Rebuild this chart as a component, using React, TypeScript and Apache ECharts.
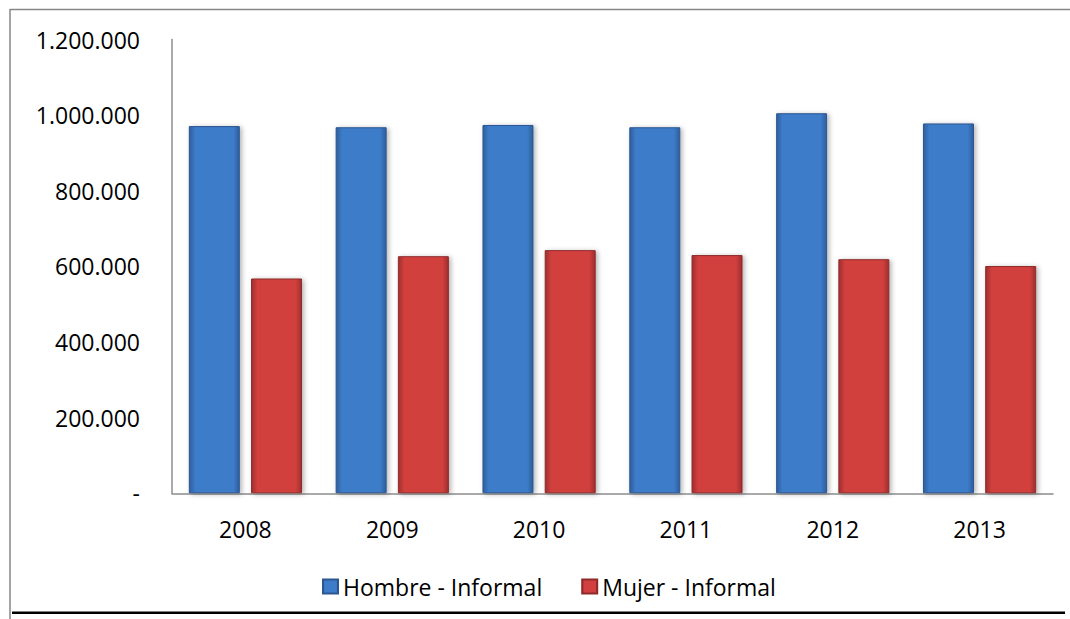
import React, { useEffect, useRef } from "react";
import * as echarts from "echarts";

const years = ["2008", "2009", "2010", "2011", "2012", "2013"];
const hombre = [971000, 968000, 974000, 968000, 1005000, 978000];
const mujer = [568000, 627000, 643000, 630000, 619000, 601000];
const seriesNames = ["Hombre - Informal", "Mujer - Informal"];

const fmt = (v: number) => {
  if (v === 0) return "-";
  return String(Math.round(v)).replace(/\B(?=(\d{3})+(?!\d))/g, ".");
};

const hGrad = (edge: string, mid: string) =>
  new echarts.graphic.LinearGradient(0, 0, 1, 0, [
    { offset: 0, color: edge },
    { offset: 0.12, color: mid },
    { offset: 0.88, color: mid },
    { offset: 1, color: edge },
  ]);

export default function App() {
  const ref = useRef<HTMLDivElement>(null);
  useEffect(() => {
    document.body.style.margin = "0";
    const chart = echarts.init(ref.current!, undefined, { renderer: "svg" });
    const font = "'Open Sans', sans-serif";
    chart.setOption({
      animation: false,
      backgroundColor: "#ffffff",
      textStyle: { fontFamily: font },
      grid: { left: 172, right: 17, top: 39.5, bottom: 125.7, containLabel: false },
      legend: {
        left: 322,
        top: 575,
        padding: 0,
        itemWidth: 15,
        itemHeight: 14,
        itemGap: 39,
        icon: "rect",
        textStyle: { fontFamily: font, fontSize: 23, color: "#000" },
        data: seriesNames,
      },
      xAxis: {
        type: "category",
        data: years,
        axisLine: { show: true, lineStyle: { color: "#8c8c8c", width: 1.5 } },
        axisTick: { show: false },
        axisLabel: { fontFamily: font, fontSize: 23, color: "#000", margin: 24 },
        splitLine: { show: false },
      },
      yAxis: {
        type: "value",
        min: 0,
        max: 1200000,
        interval: 200000,
        axisLine: { show: true, lineStyle: { color: "#8c8c8c", width: 1.5 } },
        axisTick: { show: false },
        splitLine: { show: false },
        axisLabel: {
          fontFamily: font,
          fontSize: 23,
          color: "#000",
          margin: 32,
          formatter: (v: number) => fmt(v),
        },
      },
      series: [
        {
          name: seriesNames[0],
          type: "bar",
          data: hombre,
          barWidth: 51,
          barGap: "22%",
          itemStyle: {
            color: hGrad("#2f5e9c", "#3d7cc9"),
            borderColor: "#2c5691",
            borderWidth: 1,
            shadowBlur: 5,
            shadowColor: "rgba(0,0,0,0.3)",
            shadowOffsetX: 2,
            shadowOffsetY: 1,
          },
        },
        {
          name: seriesNames[1],
          type: "bar",
          data: mujer,
          barWidth: 51,
          itemStyle: {
            color: hGrad("#9e2f2f", "#d13f3e"),
            borderColor: "#8f2a2a",
            borderWidth: 1,
            shadowBlur: 5,
            shadowColor: "rgba(0,0,0,0.3)",
            shadowOffsetX: 2,
            shadowOffsetY: 1,
          },
        },
      ],
      graphic: [
        {
          type: "line",
          shape: { x1: 10, y1: 9.5, x2: 1070, y2: 9.5 },
          style: { stroke: "#868686", lineWidth: 1.5 },
          silent: true,
        },
        {
          type: "line",
          shape: { x1: 10, y1: 9, x2: 10, y2: 619 },
          style: { stroke: "#868686", lineWidth: 1.5 },
          silent: true,
        },
        {
          type: "line",
          shape: { x1: 12, y1: 612.7, x2: 1065, y2: 612.7 },
          style: { stroke: "#000000", lineWidth: 2.5 },
          silent: true,
        },
      ],
    });
    return () => chart.dispose();
  }, []);
  return <div ref={ref} style={{ width: 1070, height: 619 }} />;
}
